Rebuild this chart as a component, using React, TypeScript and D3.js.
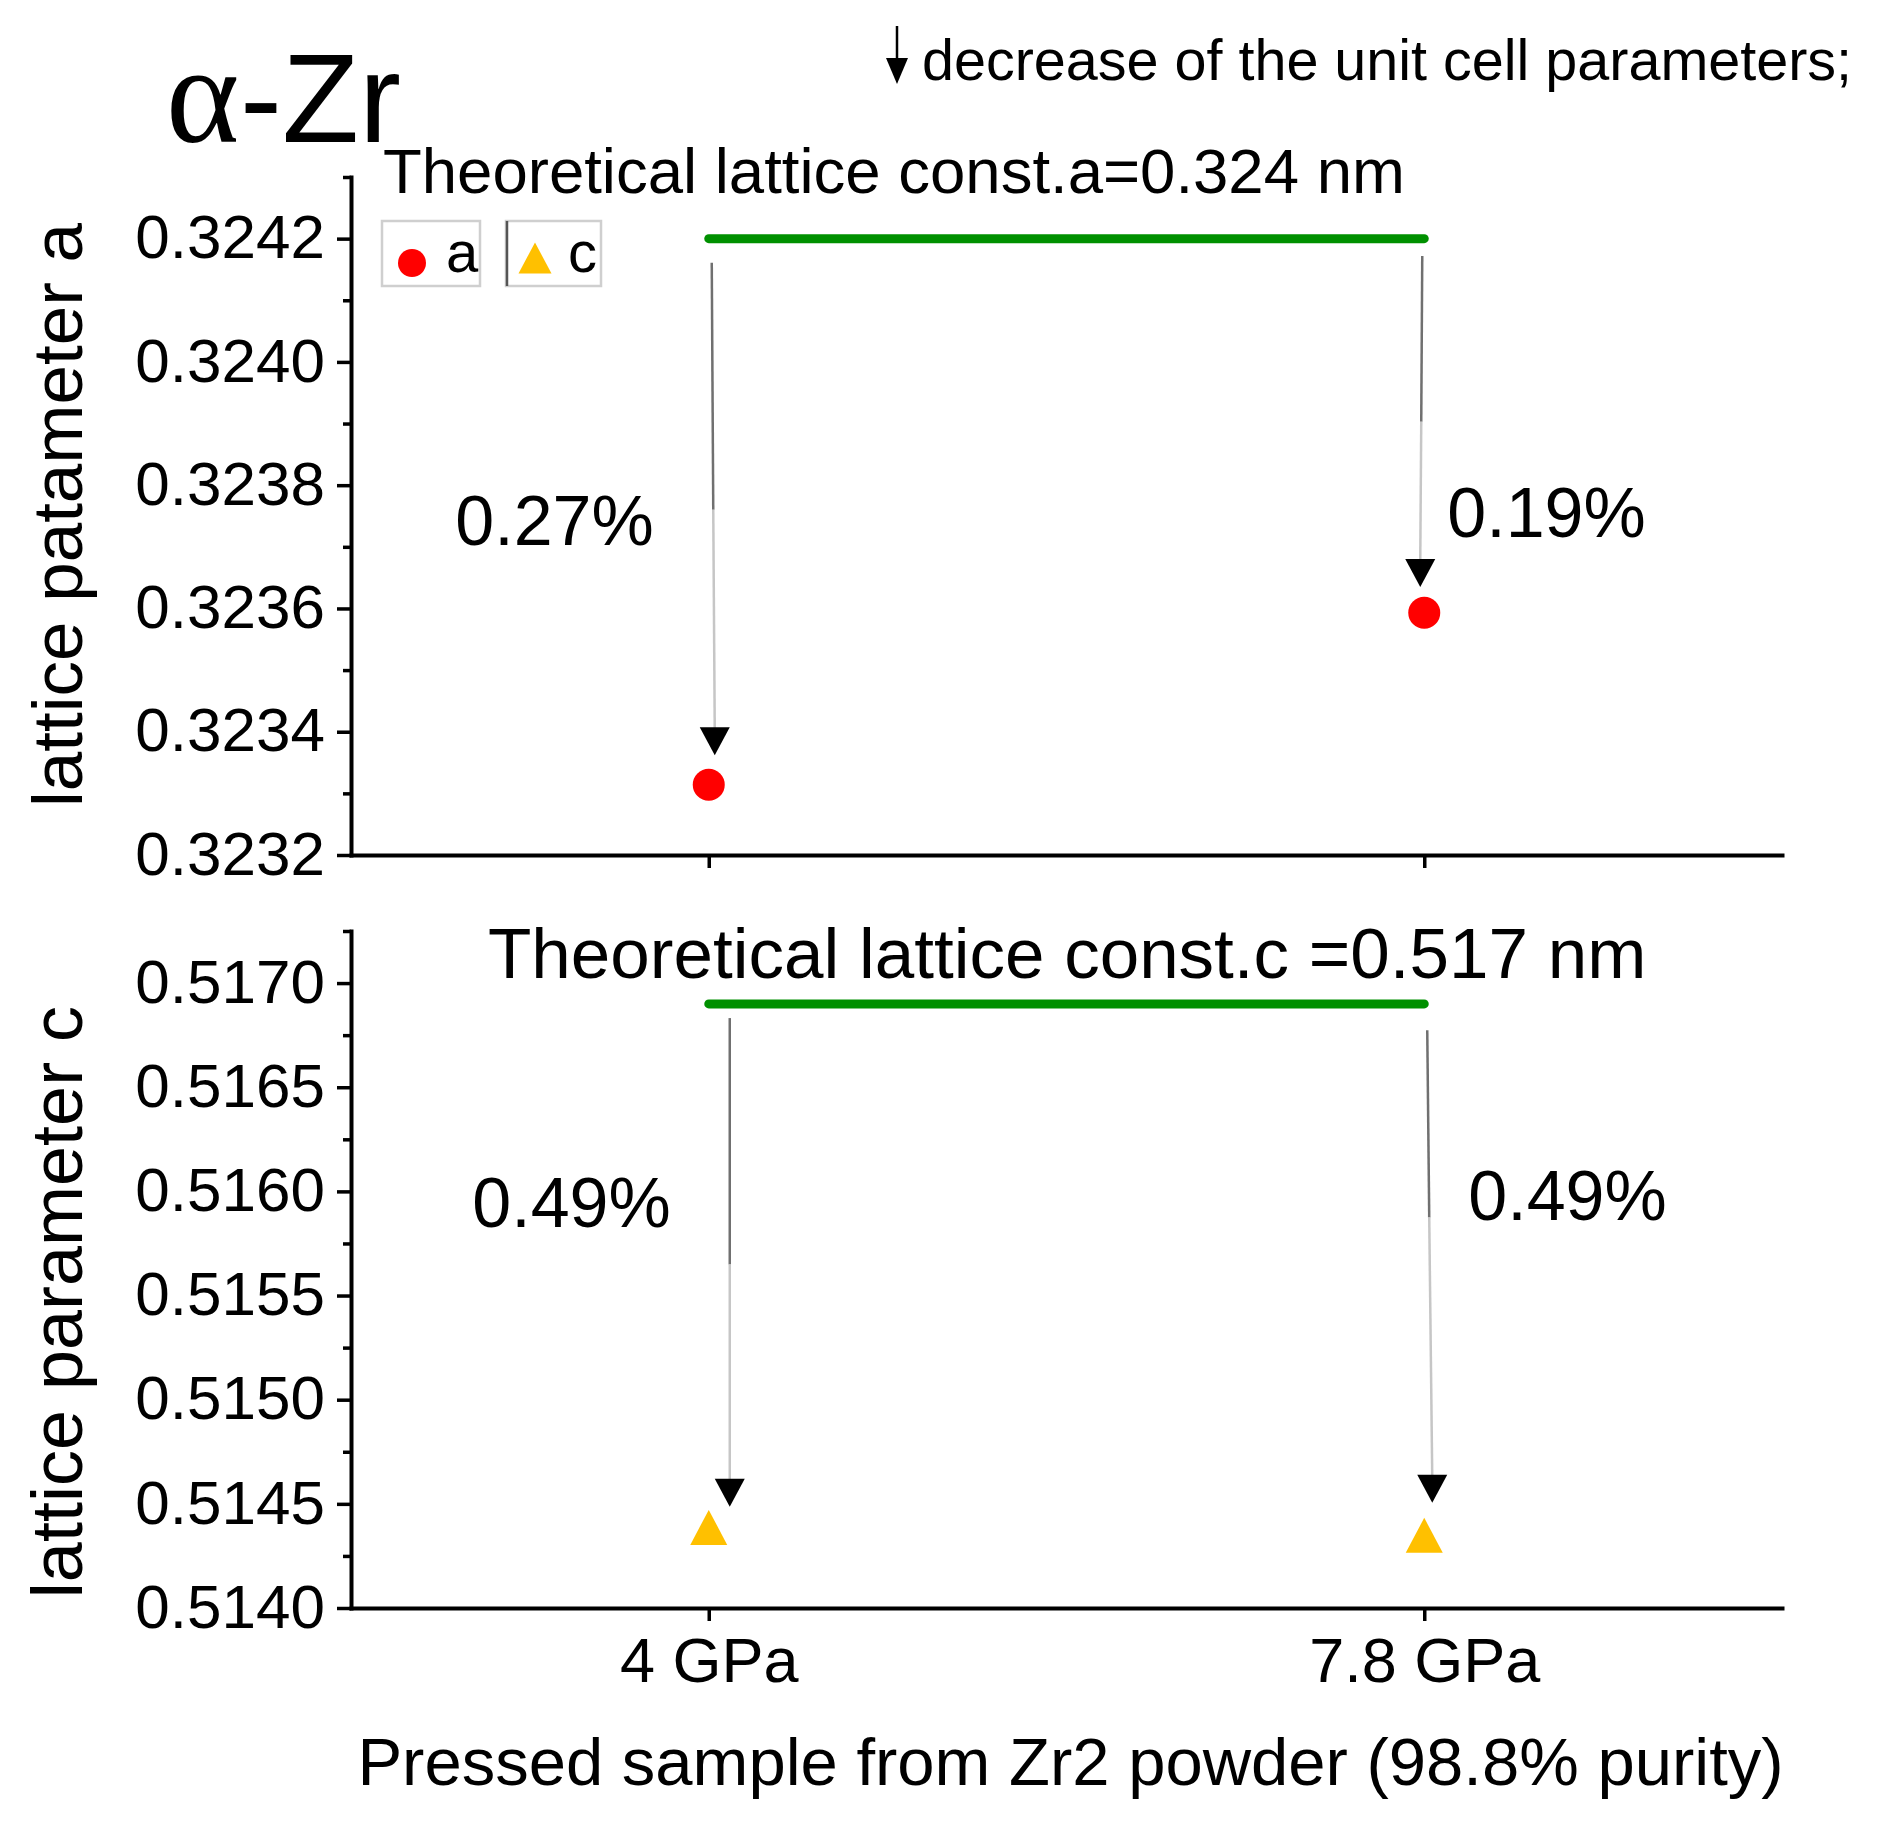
import React, { useRef, useEffect } from 'react';
import * as d3 from 'd3';

// pressure categories of the pressed samples
const categories = ['4 GPa', '7.8 GPa'];

// measured lattice parameters, nm
const paramA = [0.323314, 0.323593];
const paramC = [0.514387, 0.514349];

// theoretical constants (green reference lines)
const theoryA = 0.3242;
const theoryC = 0.5169;

// axis ticks
const ticksA = [0.3232, 0.3234, 0.3236, 0.3238, 0.324, 0.3242];
const minorA = [0.3233, 0.3235, 0.3237, 0.3239, 0.3241, 0.3243];
const ticksC = [0.514, 0.5145, 0.515, 0.5155, 0.516, 0.5165, 0.517];
const minorC = [0.51425, 0.51475, 0.51525, 0.51575, 0.51625, 0.51675, 0.51725];

// decrease labels
const percentA = ['0.27%', '0.19%'];
const percentC = ['0.49%', '0.49%'];

// decrease arrows: [start, shade change, tip] in axis units
const arrowsA = [
    [0.324161, 0.32376, 0.323362],
    [0.324172, 0.323903, 0.323635],
];
const arrowsC = [
    [0.516832, 0.515649, 0.514486],
    [0.516774, 0.515875, 0.514505],
];

const FONT = '"Liberation Sans", Arial, sans-serif';
const SERIF = '"Liberation Serif", "DejaVu Serif", "Times New Roman", serif';

export default function App() {
    const svgRef = useRef<SVGSVGElement | null>(null);

    useEffect(() => {
        if (!svgRef.current) return;
        const svg = d3.select(svgRef.current);
        svg.selectAll('*').remove();

        const left = 351;
        const right = 1782;

        const x = d3.scalePoint<string>().domain(categories).range([left, right]).padding(0.5);
        const yA = d3.scaleLinear().domain([0.3232, 0.3243]).range([855, 177]);
        const yC = d3.scaleLinear().domain([0.514, 0.51725]).range([1608, 931]);

        const styleAxis = (g: d3.Selection<SVGGElement, unknown, null, undefined>) => {
            g.attr('font-family', FONT).attr('font-size', 62);
            g.select('.domain').attr('stroke-width', 4).attr('stroke-linecap', 'square').attr('stroke', '#000');
            g.selectAll('.tick line').attr('stroke-width', 3.5).attr('stroke', '#000');
            g.selectAll('.tick text').attr('fill', '#000');
        };

        const drawYAxis = (y: d3.ScaleLinear<number, number>, major: number[], minor: number[]) => {
            const gMinor = svg.append('g').attr('transform', `translate(${left},0)`);
            gMinor.call(d3.axisLeft(y).tickValues(minor).tickSize(8).tickSizeOuter(0).tickFormat(() => ''));
            styleAxis(gMinor);
            gMinor.select('.domain').remove();

            const gMajor = svg.append('g').attr('transform', `translate(${left},0)`);
            gMajor.call(
                d3.axisLeft(y).tickValues(major).tickSize(14).tickSizeOuter(0).tickPadding(12)
                    .tickFormat(d => d3.format('.4f')(d as number))
            );
            styleAxis(gMajor);
            gMajor.selectAll('.tick text').attr('dy', '0.31em');
        };

        const drawXAxis = (y0: number, labels: boolean) => {
            const g = svg.append('g').attr('transform', `translate(0,${y0})`);
            g.call(d3.axisBottom(x).tickSize(13).tickSizeOuter(0).tickFormat(d => (labels ? d : '')));
            styleAxis(g);
            g.attr('font-size', 63);
            g.selectAll('.tick text').attr('y', 74).attr('dy', 0);
        };

        drawYAxis(yA, ticksA, minorA);
        drawXAxis(855, false);
        drawYAxis(yC, ticksC, minorC);
        drawXAxis(1608, true);

        const first = x(categories[0])!;
        const last = x(categories[categories.length - 1])!;

        // theoretical lines
        [[yA, theoryA], [yC, theoryC]].forEach(([y, v]) => {
            const yy = (y as d3.ScaleLinear<number, number>)(v as number);
            svg.append('line')
                .attr('x1', first).attr('x2', last)
                .attr('y1', yy).attr('y2', yy)
                .attr('stroke', '#009000')
                .attr('stroke-width', 9)
                .attr('stroke-linecap', 'round');
        });

        // arrows
        const drawArrows = (y: d3.ScaleLinear<number, number>, arrows: number[][], offsets: number[][]) => {
            arrows.forEach((a, i) => {
                const cx = x(categories[i])!;
                const x0 = cx + offsets[i][0];
                const x1 = cx + offsets[i][1];
                const y0 = y(a[0]);
                const ym = y(a[1]);
                const y1 = y(a[2]);
                const headH = 28;
                const headW = 30;
                const xm = x0 + (x1 - x0) * (ym - y0) / (y1 - y0);
                svg.append('line')
                    .attr('x1', x0).attr('y1', y0).attr('x2', xm).attr('y2', ym)
                    .attr('stroke', '#707070').attr('stroke-width', 2.5);
                svg.append('line')
                    .attr('x1', xm).attr('y1', ym).attr('x2', x1).attr('y2', y1 - headH + 2)
                    .attr('stroke', '#c6c6c6').attr('stroke-width', 2.5);
                svg.append('path')
                    .attr('d', `M${x1 - headW / 2},${y1 - headH}L${x1 + headW / 2},${y1 - headH}L${x1},${y1}Z`)
                    .attr('fill', '#000');
            });
        };
        drawArrows(yA, arrowsA, [[3, 6], [-2, -4]]);
        drawArrows(yC, arrowsC, [[21, 21], [3, 8]]);

        // markers
        svg.append('g').selectAll('circle')
            .data(paramA)
            .join('circle')
            .attr('cx', (_, i) => x(categories[i])!)
            .attr('cy', d => yA(d))
            .attr('r', 16)
            .attr('fill', '#ff0000');

        const tri = (w: number, h: number) => `M0,${-h / 2}L${w / 2},${h / 2}L${-w / 2},${h / 2}Z`;
        svg.append('g').selectAll('path')
            .data(paramC)
            .join('path')
            .attr('transform', (d, i) => `translate(${x(categories[i])},${yC(d)})`)
            .attr('d', tri(37, 35))
            .attr('fill', '#ffc000');

        // percent labels
        const pct = (txt: string, px: number, py: number, anchor: string) => {
            svg.append('text')
                .attr('x', px).attr('y', py)
                .attr('text-anchor', anchor)
                .attr('font-family', FONT).attr('font-size', 70)
                .text(txt);
        };
        pct(percentA[0], first - 55, 545, 'end');
        pct(percentA[1], last + 23, 537, 'start');
        pct(percentC[0], first - 38, 1227, 'end');
        pct(percentC[1], last + 44, 1220, 'start');

        // theoretical constant texts
        svg.append('text').attr('x', 383).attr('y', 193)
            .attr('font-family', FONT).attr('font-size', 63.5)
            .text('Theoretical lattice const.a=0.324 nm');
        svg.append('text').attr('x', 488).attr('y', 978)
            .attr('font-family', FONT).attr('font-size', 71)
            .text('Theoretical lattice const.c =0.517 nm');

        // legend
        const legend = svg.append('g');
        legend.append('rect').attr('x', 382).attr('y', 221).attr('width', 98).attr('height', 65)
            .attr('fill', '#fff').attr('stroke', '#cfcfcf').attr('stroke-width', 2.5);
        legend.append('circle').attr('cx', 412).attr('cy', 263).attr('r', 14).attr('fill', '#ff0000');
        legend.append('text').attr('x', 446).attr('y', 272)
            .attr('font-family', FONT).attr('font-size', 58).text('a');
        legend.append('rect').attr('x', 506).attr('y', 221).attr('width', 95).attr('height', 65)
            .attr('fill', '#fff').attr('stroke', '#cfcfcf').attr('stroke-width', 2.5);
        legend.append('line').attr('x1', 507).attr('x2', 507).attr('y1', 221).attr('y2', 286)
            .attr('stroke', '#555').attr('stroke-width', 2.5);
        legend.append('path').attr('transform', 'translate(535,258)').attr('d', tri(33, 31)).attr('fill', '#ffc000');
        legend.append('text').attr('x', 568).attr('y', 272)
            .attr('font-family', FONT).attr('font-size', 58).text('c');

        // axis titles
        svg.append('text')
            .attr('transform', 'translate(82,515) rotate(-90)')
            .attr('text-anchor', 'middle')
            .attr('font-family', FONT).attr('font-size', 71)
            .text('lattice patameter a');
        svg.append('text')
            .attr('transform', 'translate(82,1302) rotate(-90)')
            .attr('text-anchor', 'middle')
            .attr('font-family', FONT).attr('font-size', 72)
            .text('lattice parameter c');
        svg.append('text')
            .attr('x', (left + right) / 2 + 4).attr('y', 1785)
            .attr('text-anchor', 'middle')
            .attr('font-family', FONT).attr('font-size', 67)
            .text('Pressed sample from Zr2 powder (98.8% purity)');

        // heading
        const head = svg.append('text').attr('y', 142).attr('font-size', 128);
        head.append('tspan').attr('x', 166).attr('font-family', SERIF).attr('font-size', 140).text('α');
        head.append('tspan').attr('x', 240).attr('font-family', FONT).attr('font-size', 126).text('-Zr');

        svg.append('line').attr('x1', 897).attr('x2', 897).attr('y1', 26).attr('y2', 62)
            .attr('stroke', '#000').attr('stroke-width', 2.5);
        svg.append('path').attr('d', 'M886,58L908,58L897,84Z').attr('fill', '#000');
        svg.append('text').attr('x', 922).attr('y', 80)
            .attr('font-family', FONT).attr('font-size', 57.5)
            .text('decrease of the unit cell parameters;');
    }, []);

    return (
        <div>
            <style>{'body{margin:0;background:#fff}'}</style>
            <svg ref={svgRef} width={1884} height={1822} style={{ display: 'block', background: '#fff' }} />
        </div>
    );
}
